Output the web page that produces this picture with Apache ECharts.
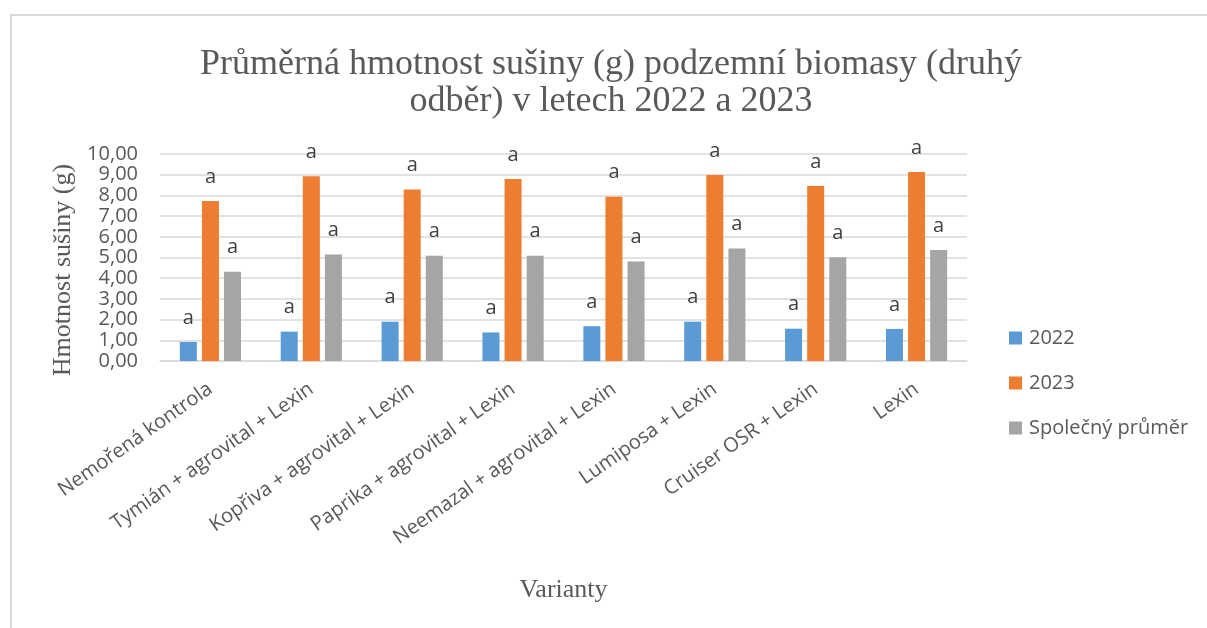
<!DOCTYPE html>
<html>
<head>
<meta charset="utf-8">
<script src="https://cdn.jsdelivr.net/npm/echarts@6/dist/echarts.min.js"></script>
<style>
  html, body { margin: 0; padding: 0; background: #fff; }
  #chart { width: 1207px; height: 628px; }
</style>
</head>
<body>
<div id="chart"></div>
<script>
var categories = ['Nemořená kontrola', 'Tymián + agrovital + Lexin', 'Kopřiva + agrovital + Lexin',
  'Paprika + agrovital + Lexin', 'Neemazal + agrovital + Lexin', 'Lumiposa + Lexin',
  'Cruiser OSR + Lexin', 'Lexin']
var values2022 = [0.92, 1.42, 1.90, 1.38, 1.68, 1.90, 1.56, 1.55]
var values2023 = [7.73, 8.92, 8.29, 8.79, 7.94, 8.99, 8.45, 9.13]
var valuesAvg = [4.31, 5.15, 5.09, 5.09, 4.81, 5.44, 5.01, 5.36]
var seriesNames = ['2022', '2023', 'Společný průměr']
var colors = ['#5B9BD5', '#ED7D31', '#A5A5A5']

var sans = '"Open Sans", sans-serif'
var serif = '"Liberation Serif", "DejaVu Serif", serif'

function barSeries (name, data, color) {
  return {
    name: name,
    type: 'bar',
    data: data,
    barWidth: 17,
    barGap: '30%',
    itemStyle: { color: color },
    label: {
      show: true,
      position: 'top',
      distance: 14,
      formatter: 'a', // písmeno homogenní skupiny
      fontFamily: sans,
      fontSize: 20,
      color: '#404040'
    }
  }
}

var chart = echarts.init(document.getElementById('chart'))
chart.setOption({
  animation: false,
  title: {
    text: 'Průměrná hmotnost sušiny (g) podzemní biomasy (druhý\nodběr) v letech 2022 a 2023',
    left: 606,
    top: 41,
    textAlign: 'center',
    textStyle: {
      fontFamily: serif,
      fontSize: 36,
      fontWeight: 'normal',
      color: '#595959',
      lineHeight: 37
    }
  },
  graphic: [{
    type: 'rect',
    shape: { x: 11, y: 15, width: 1300, height: 700 },
    style: { fill: 'none', stroke: '#d9d9d9', lineWidth: 2 },
    silent: true
  }],
  legend: {
    orient: 'vertical',
    left: 1009,
    top: 328,
    padding: 0,
    itemWidth: 13,
    itemHeight: 13,
    itemGap: 25,
    icon: 'rect',
    textStyle: { fontFamily: sans, fontSize: 20, color: '#595959', padding: [0, 0, 0, 2] },
    data: seriesNames
  },
  grid: { left: 160, right: 240, top: 154, bottom: 267 },
  xAxis: {
    type: 'category',
    data: categories,
    name: 'Varianty',
    nameLocation: 'middle',
    nameGap: 216,
    nameTextStyle: { fontFamily: serif, fontSize: 26, color: '#595959' },
    axisLine: { lineStyle: { color: '#d9d9d9', width: 1.5 } },
    axisTick: { show: false },
    axisLabel: {
      interval: 0,
      rotate: 35,
      margin: 26,
      fontFamily: sans,
      fontSize: 20,
      color: '#595959'
    }
  },
  yAxis: {
    type: 'value',
    min: 0,
    max: 10,
    interval: 1,
    name: 'Hmotnost sušiny (g)',
    nameLocation: 'middle',
    nameGap: 83,
    nameTextStyle: { fontFamily: serif, fontSize: 26, color: '#595959', padding: [0, 25, 0, 0] },
    axisLine: { show: false },
    axisTick: { show: false },
    splitLine: { lineStyle: { color: '#d9d9d9', width: 1.5 } },
    axisLabel: {
      margin: 22,
      fontFamily: sans,
      fontSize: 20,
      color: '#595959',
      formatter: function (v) { return v.toFixed(2).replace('.', ',') }
    }
  },
  series: [
    barSeries(seriesNames[0], values2022, colors[0]),
    barSeries(seriesNames[1], values2023, colors[1]),
    barSeries(seriesNames[2], valuesAvg, colors[2])
  ]
})
</script>
</body>
</html>
